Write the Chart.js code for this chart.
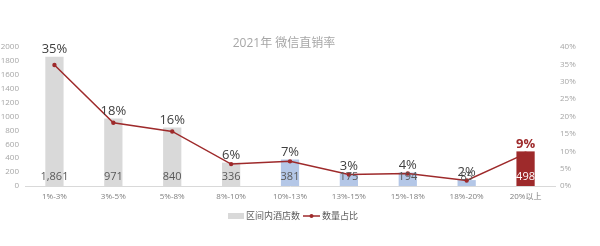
<!DOCTYPE html>
<html>
<head>
<meta charset="utf-8">
<script src="https://cdn.jsdelivr.net/npm/chart.js@4.4.0/dist/chart.umd.min.js"></script>
<style>
    html, body { margin: 0; padding: 0; background: #fff; }
    #wrap { width: 600px; height: 246px; }
</style>
</head>
<body>
<div id="wrap"><canvas id="chart"></canvas></div>
<script>
    // data
    var categories = ["1%-3%", "3%-5%", "5%-8%", "8%-10%", "10%-13%", "13%-15%", "15%-18%", "18%-20%", "20%以上"];
    var hotelCounts = [1861, 971, 840, 336, 381, 175, 194, 85, 498];
    var shareValues = [34.8, 18.2, 15.7, 6.3, 7.1, 3.3, 3.6, 1.6, 9.3];
    var shareLabels = ["35%", "18%", "16%", "6%", "7%", "3%", "4%", "2%", "9%"];
    var leftTicks = [0, 200, 400, 600, 800, 1000, 1200, 1400, 1600, 1800, 2000];
    var rightTicks = [0, 5, 10, 15, 20, 25, 30, 35, 40];

    var titleText = "2021年 微信直销率";
    var seriesNames = ["区间内酒店数", "数量占比"];

    var GRAY = "#d9d9d9";
    var BLUE = "#b4c7e7";
    var RED = "#9e2a2b";
    var FONT = "'Open Sans', 'Noto Sans CJK SC', sans-serif";

    var barColors = hotelCounts.map(function(v, i) {
        if (i < 4) return GRAY;
        if (i < 8) return BLUE;
        return RED;
    });

    // labels, title and legend drawn on top
    var extras = {
        id: "extras",
        afterDatasetsDraw: function(chart) {
            var ctx = chart.ctx;
            var bars = chart.getDatasetMeta(0).data;
            ctx.save();
            ctx.textAlign = "center";

            // title
            ctx.font = "12px " + FONT;
            ctx.fillStyle = "#a6a6a6";
            ctx.textBaseline = "middle";
            ctx.fillText(titleText, 284, 44);

            bars.forEach(function(bar, i) {
                var last = i === bars.length - 1;
                // count at the foot of the bar
                ctx.font = "11px " + FONT;
                ctx.fillStyle = last ? "#ffffff" : "#595959";
                ctx.textBaseline = "middle";
                ctx.fillText(hotelCounts[i].toLocaleString("en-US"), bar.x, bar.base - 9);

                // share above the bar
                ctx.font = (last ? "bold " : "") + "13px " + FONT;
                ctx.fillStyle = last ? RED : "#404040";
                ctx.textBaseline = "bottom";
                ctx.fillText(shareLabels[i], bar.x, bar.y - 1);
            });

            // legend
            var ly = 216;
            ctx.font = "9px " + FONT;
            ctx.textBaseline = "middle";
            ctx.textAlign = "left";
            ctx.fillStyle = GRAY;
            ctx.fillRect(228, ly - 3, 16, 6);
            ctx.fillStyle = "#595959";
            ctx.fillText(seriesNames[0], 246, ly);

            ctx.strokeStyle = RED;
            ctx.lineWidth = 1.5;
            ctx.beginPath();
            ctx.moveTo(303, ly);
            ctx.lineTo(320, ly);
            ctx.stroke();
            ctx.fillStyle = RED;
            ctx.beginPath();
            ctx.arc(311.5, ly, 2, 0, Math.PI * 2);
            ctx.fill();
            ctx.fillStyle = "#595959";
            ctx.fillText(seriesNames[1], 322, ly);
            ctx.restore();
        }
    };

    var ctx = document.getElementById("chart").getContext("2d");
    var myChart = new Chart(ctx, {
        type: "bar",
        data: {
            labels: categories,
            datasets: [{
                type: "bar",
                label: seriesNames[0],
                data: hotelCounts,
                backgroundColor: barColors,
                yAxisID: "y",
                categoryPercentage: 1,
                barPercentage: 0.31,
                order: 2
            }, {
                type: "line",
                label: seriesNames[1],
                data: shareValues,
                borderColor: RED,
                backgroundColor: RED,
                borderWidth: 1.5,
                pointRadius: 2.2,
                pointBackgroundColor: RED,
                pointBorderWidth: 0,
                tension: 0,
                yAxisID: "y1",
                order: 1
            }]
        },
        options: {
            responsive: true,
            maintainAspectRatio: false,
            animation: false,
            layout: {
                padding: { top: 47, bottom: 44, left: 0, right: 0 }
            },
            plugins: {
                legend: { display: false },
                title: { display: false },
                tooltip: { enabled: false }
            },
            scales: {
                x: {
                    grid: { display: false, drawTicks: false },
                    border: { display: true, color: "#d9d9d9" },
                    ticks: { color: "#7f7f7f", font: { size: 8, family: FONT }, padding: 6, maxRotation: 0, autoSkip: false },
                    afterFit: function(scale) { scale.height = 16; }
                },
                y: {
                    position: "left",
                    min: 0,
                    max: 2000,
                    grid: { display: false, drawTicks: false },
                    border: { display: false },
                    afterBuildTicks: function(scale) {
                        scale.ticks = leftTicks.map(function(v) { return { value: v }; });
                    },
                    ticks: {
                        color: "#a6a6a6",
                        font: { size: 8, family: FONT },
                        padding: 6,
                        callback: function(v) { return String(v); }
                    },
                    afterFit: function(scale) { scale.width = 25; }
                },
                y1: {
                    position: "right",
                    min: 0,
                    max: 40,
                    grid: { display: false, drawTicks: false },
                    border: { display: false },
                    afterBuildTicks: function(scale) {
                        scale.ticks = rightTicks.map(function(v) { return { value: v }; });
                    },
                    ticks: {
                        color: "#a6a6a6",
                        font: { size: 8, family: FONT },
                        padding: 5,
                        callback: function(v) { return v + "%"; }
                    },
                    afterFit: function(scale) { scale.width = 45; }
                }
            }
        },
        plugins: [extras]
    });
</script>
</body>
</html>
